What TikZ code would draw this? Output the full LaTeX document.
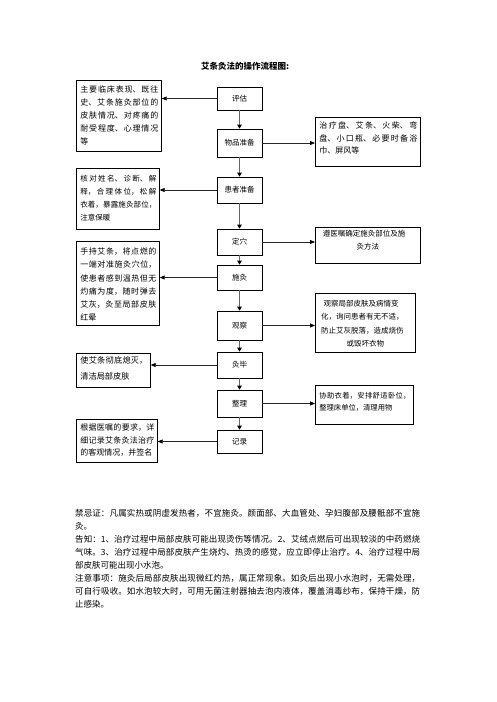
\documentclass[tikz,border=0pt]{standalone}
\usepackage{fontspec}
\setmainfont{Noto Sans CJK SC}
\usetikzlibrary{arrows.meta}
\XeTeXlinebreaklocale "zh"
\XeTeXlinebreakskip=0pt plus 1pt minus 0.05pt
\newcommand\btl[6]{\parbox[c][#2][t]{#1}{\vspace*{#3}\fontsize{#4}{#5}\selectfont\leftskip=4pt\rightskip=3pt\parfillskip=0pt plus 1fil #6\par}}
\newcommand\btc[6]{\parbox[c][#2][t]{#1}{\vspace*{#3}\fontsize{#4}{#5}\selectfont\leftskip=0pt plus 1fil\rightskip=0pt plus 1fil\parfillskip=0pt #6\par}}
\tikzset{
  cbox/.style={draw, line width=0.7pt, minimum width=45pt, inner sep=0pt, font=\fontsize{7.5}{9}\selectfont},
  sbox/.style={draw, line width=0.7pt, inner sep=0pt, anchor=north west},
  flow/.style={draw=black!60, line width=1.6pt, -{Triangle[length=4pt,width=4.5pt,color=black]}},
  side/.style={draw=black!85, line width=0.8pt, -{Triangle[length=5pt,width=4pt,color=black]}},
}
\begin{document}
\begin{tikzpicture}[x=1pt,y=-1pt]
\fill[white] (0,0) rectangle (496,702);
\useasboundingbox (0,0) rectangle (496,702);

\node[font=\fontsize{8.5}{10}\selectfont\bfseries] (title) at (245,66) {艾条灸法的操作流程图:};

% central column
\node[cbox, minimum height=23pt] (pg) at (239.5,98.5) {评估};
\node[cbox, minimum height=28pt] (wp) at (239.5,143) {物品准备};
\node[cbox, minimum height=26pt] (hz) at (239.5,190) {患者准备};
\node[cbox, minimum height=26pt] (dx) at (239.5,242) {定穴};
\node[cbox, minimum height=25pt] (sj) at (239.5,277.5) {施灸};
\node[cbox, minimum height=29pt] (gc) at (239.5,325.5) {观察};
\node[cbox, minimum height=26pt] (jb) at (239.5,365) {灸毕};
\node[cbox, minimum height=27pt] (zl) at (239.5,403.5) {整理};
\node[cbox, minimum height=23pt] (jl) at (239.5,441.5) {记录};

\draw[flow] (pg) -- (wp);
\draw[flow] (wp) -- (hz);
\draw[flow] (hz) -- (dx);
\draw[flow] (dx) -- (sj);
\draw[flow] (sj) -- (gc);
\draw[flow] (gc) -- (jb);
\draw[flow] (jb) -- (zl);
\draw[flow] (zl) -- (jl);

% left boxes
\node[sbox] (l1) at (76,80) {\btl{85pt}{71pt}{5.5pt}{8pt}{13pt}{主要临床表现、既往\linebreak 史、艾条施灸部位的\linebreak 皮肤情况、对疼痛的\linebreak 耐受程度、心理情况\linebreak 等}};
\node[sbox] (l2) at (76,168) {\btl{83pt}{61pt}{6.5pt}{7.5pt}{13pt}{核对姓名、诊断、解\linebreak 释，合理体位，松解\linebreak 衣着，暴露施灸部位，\linebreak 注意保暖}};
\node[sbox] (l3) at (76,241) {\btl{83pt}{84pt}{6.5pt}{8pt}{13.2pt}{手持艾条，将点燃的\linebreak 一端对准施灸穴位，\linebreak 使患者感到温热但无\linebreak 灼痛为度，随时弹去\linebreak 艾灰，灸至局部皮肤\linebreak 红晕}};
\node[sbox] (l4) at (76,353) {\btl{74pt}{34pt}{3pt}{8.2pt}{16pt}{使艾条彻底熄灭，\linebreak 清洁局部皮肤}};
\node[sbox] (l5) at (76,419) {\btl{81pt}{43pt}{4.5pt}{8pt}{12.5pt}{根据医嘱的要求，详\linebreak 细记录艾条灸法治疗\linebreak 的客观情况，并签名}};

% right boxes
\node[sbox] (r1) at (315,117) {\btl{105pt}{49pt}{4.5pt}{8pt}{12.5pt}{治疗盘、艾条、火柴、弯\linebreak 盘、小口瓶、必要时备浴\linebreak 巾、屏风等}};
\node[sbox] (r2) at (315,227) {\btc{105pt}{36pt}{2.7pt}{7.5pt}{13pt}{遵医嘱确定施灸部位及施\\灸方法}};
\node[sbox] (r3) at (315,293) {\btc{100pt}{59pt}{6.7pt}{7.5pt}{13.3pt}{观察局部皮肤及病情变\\化，询问患者有无不适，\\防止艾灰脱落，造成烧伤\\或毁坏衣物}};
\node[sbox] (r4) at (315,385) {\btl{98pt}{39pt}{6.7pt}{7.3pt}{12pt}{协助衣着，安排舒适卧位，\linebreak 整理床单位，清理用物}};

% side connectors
\draw[side] (pg.west) -- (l1.east |- pg.west);
\draw[side] (hz.west) -- (l2.east |- hz.west);
\draw[side] (sj.west) -- (l3.east |- sj.west);
\draw[side] (jb.west) -- (l4.east |- jb.west);
\draw[side] (jl.west) -- (l5.east |- jl.west);
\draw[side] (wp.east) -- (r1.west |- wp.east);
\draw[side] (dx.east) -- (r2.west |- dx.east);
\draw[side] (gc.east) -- (r3.west |- gc.east);
\draw[side] (zl.east) -- (r4.west |- zl.east);

% notes
\node[anchor=north west, inner sep=0pt, text width=345pt, align=justify, font=\fontsize{8.5}{13}\selectfont] (notes) at (75,509) {禁忌证：凡属实热或阴虚发热者，不宜施灸。颜面部、大血管处、孕妇腹部及腰骶部不宜施\linebreak 灸。\par 告知：1、治疗过程中局部皮肤可能出现烫伤等情况。2、艾绒点燃后可出现较淡的中药燃烧\linebreak 气味。3、治疗过程中局部皮肤产生烧灼、热烫的感觉，应立即停止治疗。4、治疗过程中局\linebreak 部皮肤可能出现小水泡。\par 注意事项：施灸后局部皮肤出现微红灼热，属正常现象。如灸后出现小水泡时，无需处理，\linebreak 可自行吸收。如水泡较大时，可用无菌注射器抽去泡内液体，覆盖消毒纱布，保持干燥，防\linebreak 止感染。};
\end{tikzpicture}
\end{document}
